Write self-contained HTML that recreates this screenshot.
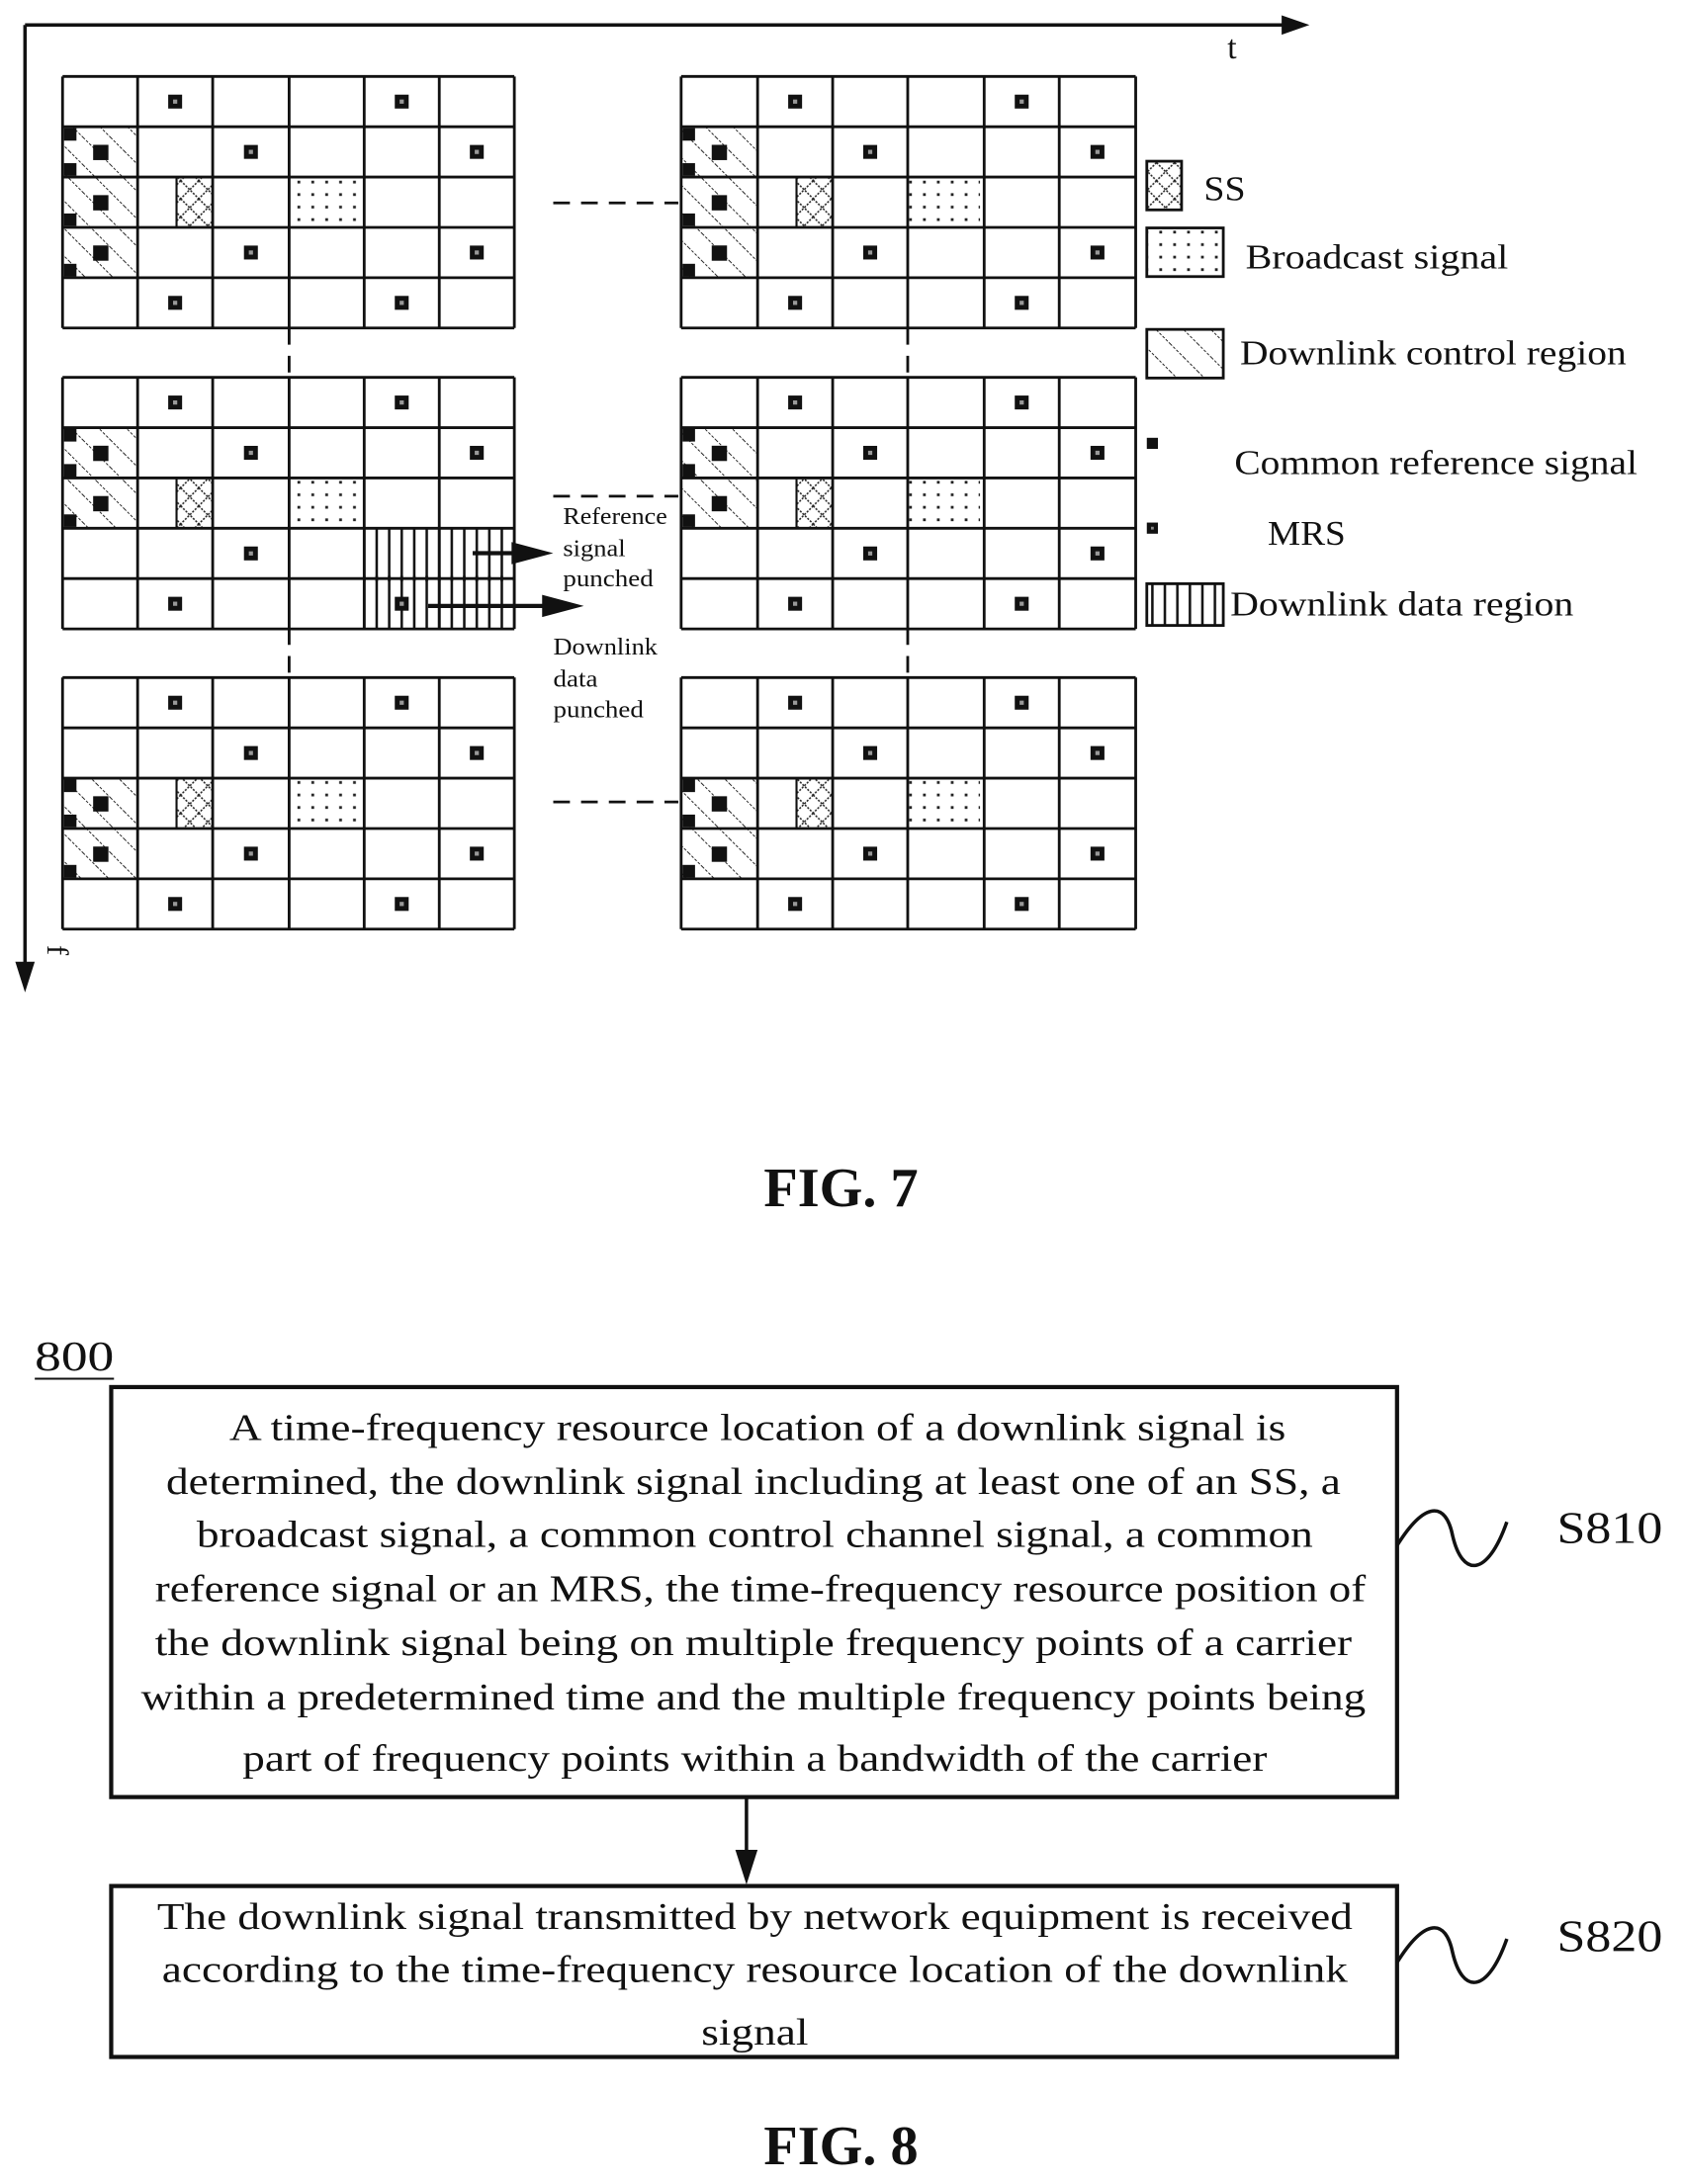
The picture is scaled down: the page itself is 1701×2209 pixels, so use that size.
<!DOCTYPE html>
<html><head><meta charset="utf-8">
<style>
html,body{margin:0;padding:0;background:#fff;}
svg{display:block;}
text{font-family:"Liberation Serif",serif;fill:#111;}
</style></head>
<body>
<svg id="s" width="1701" height="2209" viewBox="0 0 1210 1571.4" preserveAspectRatio="none" xmlns="http://www.w3.org/2000/svg">
<defs>
<pattern id="hatch" width="14" height="14" patternUnits="userSpaceOnUse" patternTransform="rotate(-45)">
<line x1="0" y1="0" x2="0" y2="14" stroke="#222" stroke-width="1.4" stroke-dasharray="2,1.2"/>
</pattern>
<pattern id="dots" width="10" height="9" patternUnits="userSpaceOnUse">
<rect x="4" y="4" width="2" height="2" fill="#222"/>
</pattern>
<pattern id="cross" width="13" height="13" patternUnits="userSpaceOnUse">
<path d="M0 0L13 13M13 0L0 13" stroke="#222" stroke-width="1.1" stroke-dasharray="1.5,1"/>
</pattern>
<pattern id="vstripe" width="9" height="10" patternUnits="userSpaceOnUse">
<line x1="1" y1="0" x2="1" y2="10" stroke="#111" stroke-width="1.8"/>
</pattern>
</defs>
<rect width="1210" height="1571.4" fill="#fff"/>
<!-- axes -->
<line x1="18" y1="18" x2="930" y2="18" stroke="#111" stroke-width="2.5"/>
<path d="M922 11L942 18L922 25z" fill="#111"/>
<line x1="18" y1="18" x2="18" y2="700" stroke="#111" stroke-width="2.5"/>
<path d="M11 692L18 714L25 692z" fill="#111"/>
<text x="883" y="42" font-size="24">t</text>
<text x="34" y="680" font-size="22" transform="rotate(90 34 680)">f</text>
<g id="grids"></g>
<!-- dashed connectors -->
<g stroke="#111" stroke-width="2" stroke-dasharray="12,8">
<line x1="398" y1="146" x2="488" y2="146"/>
<line x1="398" y1="357" x2="488" y2="357"/>
<line x1="398" y1="577" x2="488" y2="577"/>
<line x1="208" y1="236" x2="208" y2="272"/>
<line x1="208" y1="452" x2="208" y2="488"/>
<line x1="653" y1="236" x2="653" y2="272"/>
<line x1="653" y1="452" x2="653" y2="488"/>
</g>
<!-- punch arrows -->
<line x1="340" y1="398" x2="370" y2="398" stroke="#111" stroke-width="3"/>
<path d="M368 390L398 398L368 406z" fill="#111"/>
<line x1="308" y1="436" x2="392" y2="436" stroke="#111" stroke-width="3"/>
<path d="M390 428L420 436L390 444z" fill="#111"/>
<g font-size="17">
<text x="405" y="377" textLength="75" lengthAdjust="spacingAndGlyphs">Reference</text>
<text x="405" y="400" textLength="45" lengthAdjust="spacingAndGlyphs">signal</text>
<text x="405" y="422" textLength="65" lengthAdjust="spacingAndGlyphs">punched</text>
<text x="398" y="471" textLength="75" lengthAdjust="spacingAndGlyphs">Downlink</text>
<text x="398" y="494" textLength="32" lengthAdjust="spacingAndGlyphs">data</text>
<text x="398" y="516" textLength="65" lengthAdjust="spacingAndGlyphs">punched</text>
</g>
<!-- legend -->
<rect x="825" y="116" width="25" height="35" fill="url(#cross)" stroke="#111" stroke-width="2"/>
<text x="866" y="144" font-size="25" textLength="30" lengthAdjust="spacingAndGlyphs">SS</text>
<rect x="825" y="164" width="55" height="35" fill="url(#dots)" stroke="#111" stroke-width="2"/>
<text x="896" y="193" font-size="25" textLength="189" lengthAdjust="spacingAndGlyphs">Broadcast signal</text>
<rect x="825" y="237" width="55" height="35" fill="url(#hatch)" stroke="#111" stroke-width="2"/>
<text x="892" y="262" font-size="25" textLength="278" lengthAdjust="spacingAndGlyphs">Downlink control region</text>
<rect x="825" y="315" width="8" height="8" fill="#111"/>
<text x="888" y="341" font-size="25" textLength="290" lengthAdjust="spacingAndGlyphs">Common reference signal</text>
<rect x="825" y="376" width="8" height="8" fill="#111"/><rect x="828" y="379" width="2" height="2" fill="#888"/>
<text x="912" y="392" font-size="25" textLength="56" lengthAdjust="spacingAndGlyphs">MRS</text>
<rect x="825" y="420" width="55" height="30" fill="url(#vstripe)" stroke="#111" stroke-width="2"/>
<text x="885" y="443" font-size="25" textLength="247" lengthAdjust="spacingAndGlyphs">Downlink data region</text>
<text x="605" y="868" font-size="40" font-weight="bold" text-anchor="middle">FIG. 7</text>
<!-- FIG 8 -->
<text x="25" y="986" font-size="30" textLength="57" lengthAdjust="spacingAndGlyphs">800</text>
<line x1="25" y1="992" x2="82" y2="992" stroke="#111" stroke-width="1.5"/>
<rect x="80" y="998" width="925" height="295" fill="none" stroke="#111" stroke-width="3"/>
<g font-size="27" text-anchor="middle">
<text x="545" y="1036" textLength="760" lengthAdjust="spacingAndGlyphs">A time-frequency resource location of a downlink signal is</text>
<text x="542" y="1075" textLength="845" lengthAdjust="spacingAndGlyphs">determined, the downlink signal including at least one of an SS, a</text>
<text x="543" y="1113" textLength="803" lengthAdjust="spacingAndGlyphs">broadcast signal, a common control channel signal, a common</text>
<text x="547" y="1152" textLength="871" lengthAdjust="spacingAndGlyphs">reference signal or an MRS, the time-frequency resource position of</text>
<text x="542" y="1191" textLength="861" lengthAdjust="spacingAndGlyphs">the downlink signal being on multiple frequency points of a carrier</text>
<text x="542" y="1230" textLength="881" lengthAdjust="spacingAndGlyphs">within a predetermined time and the multiple frequency points being</text>
<text x="543" y="1274" textLength="737" lengthAdjust="spacingAndGlyphs">part of frequency points within a bandwidth of the carrier</text>
<text x="543" y="1388" textLength="860" lengthAdjust="spacingAndGlyphs">The downlink signal transmitted by network equipment is received</text>
<text x="543" y="1426" textLength="853" lengthAdjust="spacingAndGlyphs">according to the time-frequency resource location of the downlink</text>
<text x="543" y="1471" textLength="77" lengthAdjust="spacingAndGlyphs">signal</text>
</g>
<line x1="537" y1="1293" x2="537" y2="1335" stroke="#111" stroke-width="2.5"/>
<path d="M529 1331L537 1356L545 1331z" fill="#111"/>
<rect x="80" y="1357" width="925" height="123" fill="none" stroke="#111" stroke-width="3"/>
<path d="M1005 1112 C1025 1080 1040 1080 1045 1105 C1052 1135 1070 1135 1084 1095" fill="none" stroke="#111" stroke-width="2.5"/>
<path d="M1005 1412 C1025 1380 1040 1380 1045 1405 C1052 1435 1070 1435 1084 1395" fill="none" stroke="#111" stroke-width="2.5"/>
<text x="1120" y="1110" font-size="32" textLength="76" lengthAdjust="spacingAndGlyphs">S810</text>
<text x="1120" y="1404" font-size="32" textLength="76" lengthAdjust="spacingAndGlyphs">S820</text>
<text x="605" y="1557" font-size="40" font-weight="bold" text-anchor="middle">FIG. 8</text>
</svg>
<script>
(function(){
var NS="http://www.w3.org/2000/svg",G=document.getElementById("grids");
function el(t,a){var e=document.createElementNS(NS,t);for(var k in a)e.setAttribute(k,a[k]);G.appendChild(e);return e;}
var L=[45,99,153,208,262,316,370],R=[490,545,599,653,708,762,817],RH=36.2;
function grid(C,y0,hatch,mrs,data){
 var W=C[6]-C[0],H=RH*5;
 el("rect",{x:C[0],y:y0,width:W,height:H,fill:"#fff"});
 hatch.forEach(function(r){var y=y0+r*RH;
  el("rect",{x:C[0],y:y,width:C[1]-C[0],height:RH,fill:"url(#hatch)"});
  el("rect",{x:C[0]+22,y:y+13,width:11,height:11,fill:"#111"});
  el("rect",{x:C[0]+1,y:y+RH-10,width:9,height:9,fill:"#111"});
 });
 el("rect",{x:C[0]+1,y:y0+hatch[0]*RH+1,width:9,height:9,fill:"#111"});
 var y2=y0+2*RH;
 el("rect",{x:C[1]+28,y:y2,width:C[2]-C[1]-28,height:RH,fill:"url(#cross)",stroke:"#111","stroke-width":1.5});
 el("rect",{x:C[3],y:y2,width:52,height:RH,fill:"url(#dots)"});
 if(data){el("rect",{x:C[4],y:y0+3*RH,width:C[6]-C[4],height:2*RH,fill:"url(#vstripe)"});}
 mrs.forEach(function(m){var cx=(C[m[1]]+C[m[1]+1])/2,cy=y0+m[0]*RH+RH/2;
  el("rect",{x:cx-5,y:cy-5,width:10,height:10,fill:"#111"});
  el("rect",{x:cx-1.5,y:cy-1.5,width:3,height:3,fill:"#999"});
 });
 for(var i=0;i<=6;i++)el("line",{x1:C[i],y1:y0,x2:C[i],y2:y0+H,stroke:"#111","stroke-width":2});
 for(var j=0;j<=5;j++)el("line",{x1:C[0],y1:y0+j*RH,x2:C[6],y2:y0+j*RH,stroke:"#111","stroke-width":2});
 if(data){el("rect",{x:C[4],y:y0+4*RH-2,width:C[6]-C[4],height:4,fill:"url(#vstripe)"});
  el("line",{x1:C[5],y1:y0+3*RH,x2:C[5],y2:y0+H,stroke:"#111","stroke-width":1.5});}
}
var T=55,M=271.5,B=487.5;
var mT=[[0,1],[0,4],[1,2],[1,5],[3,2],[3,5],[4,1],[4,4]];
grid(L,T,[1,2,3],mT,false);
grid(R,T,[1,2,3],mT,false);
grid(L,M,[1,2],[[0,1],[0,4],[1,2],[1,5],[3,2],[4,1],[4,4]],true);
grid(R,M,[1,2],mT,false);
grid(L,B,[2,3],mT,false);
grid(R,B,[2,3],mT,false);
})();
</script>
</body></html>
